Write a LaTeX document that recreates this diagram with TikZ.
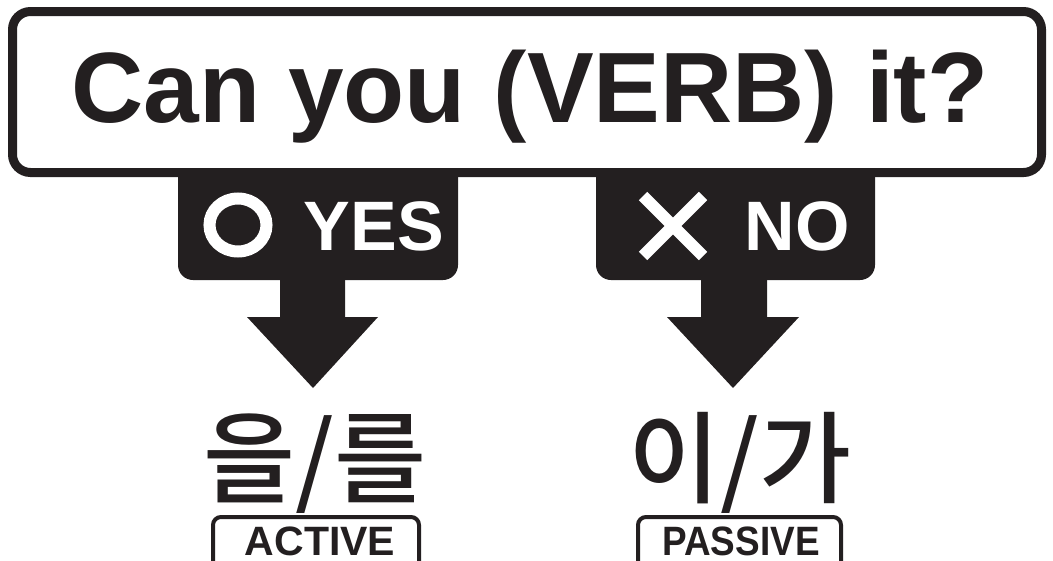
\documentclass[tikz,border=0pt]{standalone}
\usepackage{fontspec}
\setmainfont{Liberation Sans}
\newfontfamily\kr{Noto Sans CJK KR}[UprightFont={* Medium}]
\definecolor{ink}{HTML}{231F20}
\begin{document}
\begin{tikzpicture}[x=1pt,y=-1pt,
  title/.style={font=\fontsize{100}{100}\selectfont\bfseries, text=ink, inner sep=0pt, anchor=base},
  tabtext/.style={font=\fontsize{70}{70}\selectfont\bfseries, text=white, inner sep=0pt, anchor=base},
  hangul/.style={font=\kr\fontsize{100}{100}\selectfont, text=ink, inner sep=0pt, anchor=base},
  tagtext/.style={font=\fontsize{41}{41}\selectfont\bfseries, text=ink, inner sep=0pt, anchor=base, text depth=0pt},
  tagbox/.style={draw=ink, line width=4pt, rounded corners=8pt},
  tabfill/.style={fill=ink, rounded corners=15pt}
]
\useasboundingbox (0,0) rectangle (1053,560);
\clip (0,0) rectangle (1053,560);
% tabs (drawn first, the box border overlaps their top)
\fill[tabfill] (178,160) -- (178,280) -- (458,280) -- (458,160) [sharp corners] -- cycle;
\fill[tabfill] (596,160) -- (596,280) -- (875,280) -- (875,160) [sharp corners] -- cycle;
% question box
\draw[draw=ink, line width=9pt, fill=white, rounded corners=18pt] (12.5,11.5) rectangle (1041.5,172.5);
\node[title] (q) at (530,122) {Can you (VERB) it?};
% arrows
\fill[ink] (280,278) -- (345,278) -- (345,317) -- (378,317) -- (313,388) -- (247,317) -- (280,317) -- cycle;
\fill[ink] (701,278) -- (767,278) -- (767,317) -- (799,317) -- (733,388) -- (667,317) -- (701,317) -- cycle;
% YES mark
\draw[white, line width=12pt] (238,225) ellipse [x radius=28.5, y radius=26.5];
\node[tabtext] (yes) at (374,250) {YES};
% NO mark
\draw[white, line width=12pt] (643,196) -- (703,256) (703,196) -- (643,256);
\node[tabtext] (no) at (797,250) {NO};
% results
\node[hangul] (obj) at (315,495) {을/를};
\node[hangul] (subj) at (740,495) {이/가};
\draw[tagbox] (213,600) |- (419,517) -- (419,600);
\draw[tagbox] (638,600) |- (841,517) -- (841,600);
\node[tagtext] (act) at (320,555) {ACTIVE};
\node[tagtext, xscale=0.9] (pas) at (741,555) {PASSIVE};
\end{tikzpicture}
\end{document}
